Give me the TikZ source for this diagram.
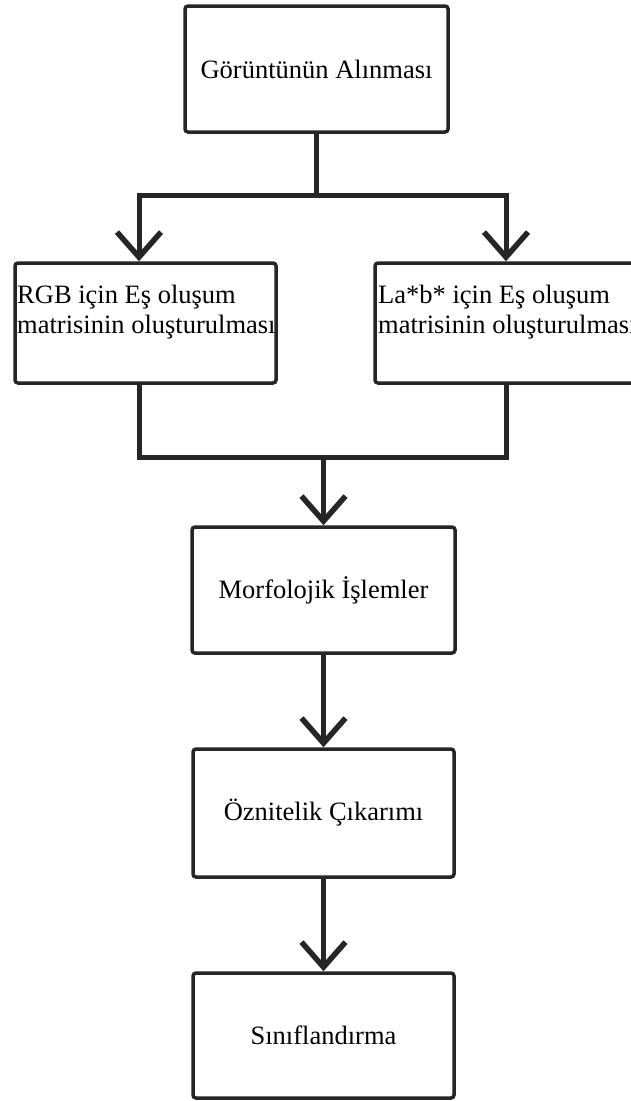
\documentclass[tikz,border=0pt]{standalone}
\usepackage{fontspec}
\setmainfont{Liberation Serif}
\usetikzlibrary{arrows.meta}
\definecolor{ink}{HTML}{262626}
\begin{document}
\begin{tikzpicture}[x=1pt,y=-1pt,
  box/.style={draw=ink, line width=3.5pt, rounded corners=3pt, fill=white, inner sep=0pt,
    font=\fontsize{26.5}{30}\selectfont, text=black},
  sidetext/.style={inner sep=0pt, align=left, font=\fontsize{26.5}{30}\selectfont, text=black},
  conn/.style={draw=ink, line width=5pt},
  arr/.style={conn, -{Straight Barb[length=25pt,width=44pt,line width=5.5pt]}}]
\fill[white] (0,0) rectangle (630,1101);
\useasboundingbox (0,0) rectangle (630,1101);

\node[box, minimum width=263pt, minimum height=126pt] (acq) at (316.5,69) {Görüntünün Alınması};
\node[box, minimum width=261pt, minimum height=120pt] (rgb) at (145.5,323) {};
\node[box, minimum width=270pt, minimum height=120pt] (lab) at (510,323) {};
\node[sidetext, anchor=west] (rgbt) at (17,312) {RGB için Eş oluşum\\matrisinin oluşturulması};
\node[sidetext, anchor=west] (labt) at (378,312) {La*b* için Eş oluşum\\matrisinin oluşturulması};
\node[box, minimum width=263pt, minimum height=126pt] (morf) at (323.5,590) {Morfolojik İşlemler};
\node[box, minimum width=261pt, minimum height=128pt] (oz) at (323.5,813) {Öznitelik Çıkarımı};
\node[box, minimum width=261pt, minimum height=125pt] (sin) at (323.5,1035.5) {Sınıflandırma};

\coordinate (j1) at (316.5,195);
\draw[conn] (acq.south) -- (j1);
\draw[arr] (j1) -| ([xshift=-6.5pt]rgb.north);
\draw[arr] (j1) -| ([xshift=-4pt]lab.north);

\coordinate (j2) at (323.5,457);
\draw[conn] ([xshift=-6.5pt]rgb.south) |- (j2);
\draw[conn] ([xshift=-4pt]lab.south) |- (j2);
\draw[arr] (j2) -- (morf.north);
\draw[arr] (morf.south) -- (oz.north);
\draw[arr] (oz.south) -- (sin.north);
\end{tikzpicture}
\end{document}
